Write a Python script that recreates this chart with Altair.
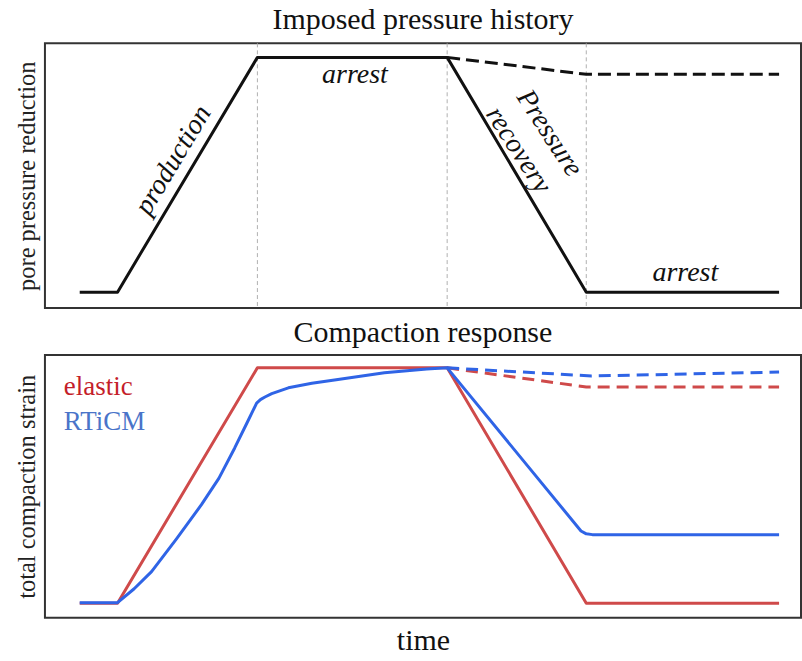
import altair as alt
import pandas as pd

SERIF = "Liberation Serif"

# Vertical phase guides in the pressure panel (time axis runs 0..100)
guide_times = [28.1, 53.2, 71.6]

# Imposed pressure history
pressure_t = [4.6, 9.6, 28.1, 53.2, 71.6, 97.1]
pressure_full = [0.06, 0.06, 0.947, 0.947, 0.06, 0.06]
pressure_part_t = [53.2, 71.6, 97.1]
pressure_part = [0.947, 0.883, 0.883]

# Compaction response: elastic model
elastic_t = [4.6, 9.6, 28.1, 53.2, 71.6, 97.1]
elastic_full = [0.055, 0.055, 0.951, 0.951, 0.055, 0.055]
elastic_part_t = [53.2, 71.6, 97.1]
elastic_part = [0.951, 0.878, 0.878]

# Compaction response: RTiCM model
rticm_t = [4.6, 9.6, 11.8, 14.1, 17.4, 20.7, 23.0, 25.1, 26.7, 28.0, 28.5, 29.1,
           30.0, 32.2, 35.3, 38.3, 44.9, 50.5, 53.2, 70.9, 71.6, 72.4, 97.1]
rticm_full = [0.057, 0.057, 0.110, 0.175, 0.300, 0.430, 0.530, 0.646, 0.740, 0.817,
              0.830, 0.840, 0.853, 0.875, 0.892, 0.905, 0.932, 0.947, 0.951,
              0.330, 0.319, 0.316, 0.316]
rticm_part_t = [53.2, 72.3, 97.1]
rticm_part = [0.951, 0.920, 0.935]

# Phase labels in the pressure panel
phase_labels = ["production", "arrest", "Pressure", "recovery", "arrest"]
phase_label_t = [17.0, 41.0, 66.7, 62.6, 84.7]
phase_label_y = [0.558, 0.879, 0.660, 0.596, 0.132]
phase_label_angle = [301, 0, 57, 57, 0]

# Model names in the compaction panel
model_names = ["elastic", "RTiCM"]
model_colors = ["#c41e2a", "#4a74c9"]
model_name_t = [2.5, 2.5]
model_name_y = [0.878, 0.745]

RED = "#cf4a4a"
BLUE = "#2f64e6"
BLACK = "#111111"

W = 757
H_TOP = 265
H_BOT = 263

x_scale = alt.Scale(domain=[0, 100], nice=False, zero=False)
y_scale = alt.Scale(domain=[0, 1], nice=False, zero=False)


def y_axis(title):
    return alt.Axis(
        title=title, labels=False, ticks=False, domain=False, grid=False,
        titleFont=SERIF, titleFontSize=24.5, titleFontWeight="normal",
        titleColor="#222222", titlePadding=5,
    )


x_axis_bottom = alt.Axis(
    title="time", labels=False, ticks=False, domain=False, grid=False,
    titleFont=SERIF, titleFontSize=30, titleFontWeight="normal",
    titleColor="#111111", titlePadding=8,
)

# encodings shared by every layer of a panel
X_TOP = alt.X("t:Q", scale=x_scale, axis=None)
Y_TOP = alt.Y("v:Q", scale=y_scale, axis=y_axis("pore pressure reduction"))
X_BOT = alt.X("t:Q", scale=x_scale, axis=x_axis_bottom)
Y_BOT = alt.Y("v:Q", scale=y_scale, axis=y_axis("total compaction strain"))


def series(ts, ys):
    return pd.DataFrame({"t": ts, "v": ys, "i": list(range(len(ts)))})


def line(df, color, x, y, dash=None, width=3):
    kw = dict(color=color, strokeWidth=width, strokeCap="butt", strokeJoin="round")
    if dash:
        kw["strokeDash"] = dash
    return alt.Chart(df).mark_line(**kw).encode(x=x, y=y, order="i:Q")


# ---- top panel: imposed pressure history ----
guides = alt.Chart(pd.DataFrame({"t": guide_times})).mark_rule(
    color="#b0b0b0", strokeWidth=1, strokeDash=[4, 3]
).encode(x=X_TOP)

pressure_solid = line(series(pressure_t, pressure_full), BLACK, X_TOP, Y_TOP)
pressure_dash = line(series(pressure_part_t, pressure_part), BLACK, X_TOP, Y_TOP,
                     dash=[13, 6])

labels_df = pd.DataFrame({
    "label": phase_labels, "t": phase_label_t, "v": phase_label_y,
    "angle": phase_label_angle,
})
phase_text = alt.Chart(labels_df).mark_text(
    font=SERIF, fontSize=28, fontStyle="italic", color="#111111",
    align="center", baseline="middle",
).encode(
    x=X_TOP, y=Y_TOP,
    text="label:N",
    angle=alt.Angle("angle:Q", scale=None),
)

top = alt.layer(guides, pressure_solid, pressure_dash, phase_text).properties(
    width=W, height=H_TOP,
    title=alt.TitleParams("Imposed pressure history", font=SERIF, fontSize=30,
                          fontWeight="normal", color="#111111", anchor="middle",
                          frame="group", offset=8),
)

# ---- bottom panel: compaction response ----
elastic_solid = line(series(elastic_t, elastic_full), RED, X_BOT, Y_BOT)
elastic_dash = line(series(elastic_part_t, elastic_part), RED, X_BOT, Y_BOT,
                    dash=[12, 7])
rticm_dash = line(series(rticm_part_t, rticm_part), BLUE, X_BOT, Y_BOT,
                  dash=[12, 7])
rticm_solid = line(series(rticm_t, rticm_full), BLUE, X_BOT, Y_BOT)

names_df = pd.DataFrame({"name": model_names, "t": model_name_t, "v": model_name_y,
                         "c": model_colors})
name_text = alt.Chart(names_df).mark_text(
    font=SERIF, fontSize=27, align="left", baseline="middle",
).encode(
    x=X_BOT, y=Y_BOT,
    text="name:N",
    color=alt.Color("c:N", scale=None),
)

bottom = alt.layer(elastic_solid, elastic_dash, rticm_dash, rticm_solid, name_text).properties(
    width=W, height=H_BOT,
    title=alt.TitleParams("Compaction response", font=SERIF, fontSize=30,
                          fontWeight="normal", color="#111111", anchor="middle",
                          frame="group", offset=7),
)

chart = alt.vconcat(top, bottom, spacing=7).properties(
    padding={"left": 14, "top": 3, "right": 0, "bottom": 0},
    background="white",
).configure_view(
    stroke="#333333", strokeWidth=2,
)

chart.save("out.html", embed_options={"renderer": "svg", "actions": False})
